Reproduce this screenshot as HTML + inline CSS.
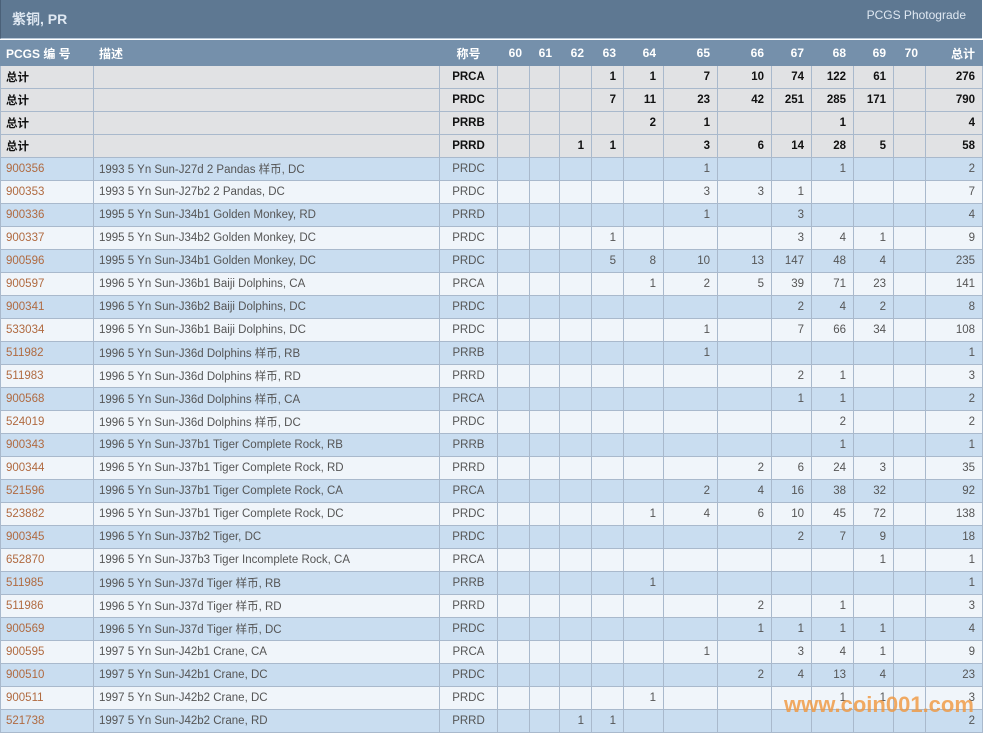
<!DOCTYPE html>
<html><head><meta charset="utf-8"><style>
body{margin:0;width:983px;height:733px;overflow:hidden;background:#fff;font-family:"Liberation Sans","Noto Sans CJK SC",sans-serif;position:relative}
.top{position:absolute;left:0;top:0;width:981px;height:38px;background:#5e7892;border-left:1px solid #4a6078;border-bottom:1px solid #b8c8d8}
.top .t{position:absolute;left:11px;top:9px;color:#dfe8f2;font-weight:bold;font-size:14px}
.top .r{position:absolute;right:16px;top:8px;color:#dfe8f2;font-size:12px}
table{position:absolute;left:0;top:40px;border-collapse:collapse;table-layout:fixed;width:982px;font-size:11.5px}
td,th{border:1px solid #a9b9cc;height:22px;padding:0 7px;white-space:nowrap;overflow:hidden;text-align:right;color:#555}
th{background:#7590ab;color:#fff;font-weight:bold;height:24px;border-color:#7590ab;font-size:12px}
td:nth-child(1),td:nth-child(2),th:nth-child(1),th:nth-child(2){text-align:left;padding-left:5px}
td:nth-child(3),th:nth-child(3){text-align:center}
tr.s td{background:#e1e2e4;color:#111;font-weight:bold}
tr.a td{background:#c9ddf0}
tr.b td{background:#f0f5fa}
tr.a td:first-child,tr.b td:first-child{color:#b06a40}
.wm{position:absolute;left:784px;top:692px;font-size:22px;font-weight:bold;color:rgba(240,150,60,.8);font-family:"Liberation Sans",sans-serif}
</style></head><body>
<div class="top"><span class="t">紫铜, PR</span><span class="r">PCGS Photograde</span></div>
<table>
<colgroup><col style="width:93px"><col style="width:346px"><col style="width:58px"><col style="width:32px"><col style="width:30px"><col style="width:32px"><col style="width:32px"><col style="width:40px"><col style="width:54px"><col style="width:54px"><col style="width:40px"><col style="width:42px"><col style="width:40px"><col style="width:32px"><col style="width:57px"></colgroup>
<tr><th>PCGS 编 号</th><th>描述</th><th>称号</th><th>60</th><th>61</th><th>62</th><th>63</th><th>64</th><th>65</th><th>66</th><th>67</th><th>68</th><th>69</th><th>70</th><th>总计</th></tr>
<tr class="s"><td>总计</td><td></td><td>PRCA</td><td></td><td></td><td></td><td>1</td><td>1</td><td>7</td><td>10</td><td>74</td><td>122</td><td>61</td><td></td><td>276</td></tr>
<tr class="s"><td>总计</td><td></td><td>PRDC</td><td></td><td></td><td></td><td>7</td><td>11</td><td>23</td><td>42</td><td>251</td><td>285</td><td>171</td><td></td><td>790</td></tr>
<tr class="s"><td>总计</td><td></td><td>PRRB</td><td></td><td></td><td></td><td></td><td>2</td><td>1</td><td></td><td></td><td>1</td><td></td><td></td><td>4</td></tr>
<tr class="s"><td>总计</td><td></td><td>PRRD</td><td></td><td></td><td>1</td><td>1</td><td></td><td>3</td><td>6</td><td>14</td><td>28</td><td>5</td><td></td><td>58</td></tr>
<tr class="a"><td>900356</td><td>1993 5 Yn Sun-J27d 2 Pandas 样币, DC</td><td>PRDC</td><td></td><td></td><td></td><td></td><td></td><td>1</td><td></td><td></td><td>1</td><td></td><td></td><td>2</td></tr>
<tr class="b"><td>900353</td><td>1993 5 Yn Sun-J27b2 2 Pandas, DC</td><td>PRDC</td><td></td><td></td><td></td><td></td><td></td><td>3</td><td>3</td><td>1</td><td></td><td></td><td></td><td>7</td></tr>
<tr class="a"><td>900336</td><td>1995 5 Yn Sun-J34b1 Golden Monkey, RD</td><td>PRRD</td><td></td><td></td><td></td><td></td><td></td><td>1</td><td></td><td>3</td><td></td><td></td><td></td><td>4</td></tr>
<tr class="b"><td>900337</td><td>1995 5 Yn Sun-J34b2 Golden Monkey, DC</td><td>PRDC</td><td></td><td></td><td></td><td>1</td><td></td><td></td><td></td><td>3</td><td>4</td><td>1</td><td></td><td>9</td></tr>
<tr class="a"><td>900596</td><td>1995 5 Yn Sun-J34b1 Golden Monkey, DC</td><td>PRDC</td><td></td><td></td><td></td><td>5</td><td>8</td><td>10</td><td>13</td><td>147</td><td>48</td><td>4</td><td></td><td>235</td></tr>
<tr class="b"><td>900597</td><td>1996 5 Yn Sun-J36b1 Baiji Dolphins, CA</td><td>PRCA</td><td></td><td></td><td></td><td></td><td>1</td><td>2</td><td>5</td><td>39</td><td>71</td><td>23</td><td></td><td>141</td></tr>
<tr class="a"><td>900341</td><td>1996 5 Yn Sun-J36b2 Baiji Dolphins, DC</td><td>PRDC</td><td></td><td></td><td></td><td></td><td></td><td></td><td></td><td>2</td><td>4</td><td>2</td><td></td><td>8</td></tr>
<tr class="b"><td>533034</td><td>1996 5 Yn Sun-J36b1 Baiji Dolphins, DC</td><td>PRDC</td><td></td><td></td><td></td><td></td><td></td><td>1</td><td></td><td>7</td><td>66</td><td>34</td><td></td><td>108</td></tr>
<tr class="a"><td>511982</td><td>1996 5 Yn Sun-J36d Dolphins 样币, RB</td><td>PRRB</td><td></td><td></td><td></td><td></td><td></td><td>1</td><td></td><td></td><td></td><td></td><td></td><td>1</td></tr>
<tr class="b"><td>511983</td><td>1996 5 Yn Sun-J36d Dolphins 样币, RD</td><td>PRRD</td><td></td><td></td><td></td><td></td><td></td><td></td><td></td><td>2</td><td>1</td><td></td><td></td><td>3</td></tr>
<tr class="a"><td>900568</td><td>1996 5 Yn Sun-J36d Dolphins 样币, CA</td><td>PRCA</td><td></td><td></td><td></td><td></td><td></td><td></td><td></td><td>1</td><td>1</td><td></td><td></td><td>2</td></tr>
<tr class="b"><td>524019</td><td>1996 5 Yn Sun-J36d Dolphins 样币, DC</td><td>PRDC</td><td></td><td></td><td></td><td></td><td></td><td></td><td></td><td></td><td>2</td><td></td><td></td><td>2</td></tr>
<tr class="a"><td>900343</td><td>1996 5 Yn Sun-J37b1 Tiger Complete Rock, RB</td><td>PRRB</td><td></td><td></td><td></td><td></td><td></td><td></td><td></td><td></td><td>1</td><td></td><td></td><td>1</td></tr>
<tr class="b"><td>900344</td><td>1996 5 Yn Sun-J37b1 Tiger Complete Rock, RD</td><td>PRRD</td><td></td><td></td><td></td><td></td><td></td><td></td><td>2</td><td>6</td><td>24</td><td>3</td><td></td><td>35</td></tr>
<tr class="a"><td>521596</td><td>1996 5 Yn Sun-J37b1 Tiger Complete Rock, CA</td><td>PRCA</td><td></td><td></td><td></td><td></td><td></td><td>2</td><td>4</td><td>16</td><td>38</td><td>32</td><td></td><td>92</td></tr>
<tr class="b"><td>523882</td><td>1996 5 Yn Sun-J37b1 Tiger Complete Rock, DC</td><td>PRDC</td><td></td><td></td><td></td><td></td><td>1</td><td>4</td><td>6</td><td>10</td><td>45</td><td>72</td><td></td><td>138</td></tr>
<tr class="a"><td>900345</td><td>1996 5 Yn Sun-J37b2 Tiger, DC</td><td>PRDC</td><td></td><td></td><td></td><td></td><td></td><td></td><td></td><td>2</td><td>7</td><td>9</td><td></td><td>18</td></tr>
<tr class="b"><td>652870</td><td>1996 5 Yn Sun-J37b3 Tiger Incomplete Rock, CA</td><td>PRCA</td><td></td><td></td><td></td><td></td><td></td><td></td><td></td><td></td><td></td><td>1</td><td></td><td>1</td></tr>
<tr class="a"><td>511985</td><td>1996 5 Yn Sun-J37d Tiger 样币, RB</td><td>PRRB</td><td></td><td></td><td></td><td></td><td>1</td><td></td><td></td><td></td><td></td><td></td><td></td><td>1</td></tr>
<tr class="b"><td>511986</td><td>1996 5 Yn Sun-J37d Tiger 样币, RD</td><td>PRRD</td><td></td><td></td><td></td><td></td><td></td><td></td><td>2</td><td></td><td>1</td><td></td><td></td><td>3</td></tr>
<tr class="a"><td>900569</td><td>1996 5 Yn Sun-J37d Tiger 样币, DC</td><td>PRDC</td><td></td><td></td><td></td><td></td><td></td><td></td><td>1</td><td>1</td><td>1</td><td>1</td><td></td><td>4</td></tr>
<tr class="b"><td>900595</td><td>1997 5 Yn Sun-J42b1 Crane, CA</td><td>PRCA</td><td></td><td></td><td></td><td></td><td></td><td>1</td><td></td><td>3</td><td>4</td><td>1</td><td></td><td>9</td></tr>
<tr class="a"><td>900510</td><td>1997 5 Yn Sun-J42b1 Crane, DC</td><td>PRDC</td><td></td><td></td><td></td><td></td><td></td><td></td><td>2</td><td>4</td><td>13</td><td>4</td><td></td><td>23</td></tr>
<tr class="b"><td>900511</td><td>1997 5 Yn Sun-J42b2 Crane, DC</td><td>PRDC</td><td></td><td></td><td></td><td></td><td>1</td><td></td><td></td><td></td><td>1</td><td>1</td><td></td><td>3</td></tr>
<tr class="a"><td>521738</td><td>1997 5 Yn Sun-J42b2 Crane, RD</td><td>PRRD</td><td></td><td></td><td>1</td><td>1</td><td></td><td></td><td></td><td></td><td></td><td></td><td></td><td>2</td></tr>
</table>
<div class="wm">www.coin001.com</div>
</body></html>
